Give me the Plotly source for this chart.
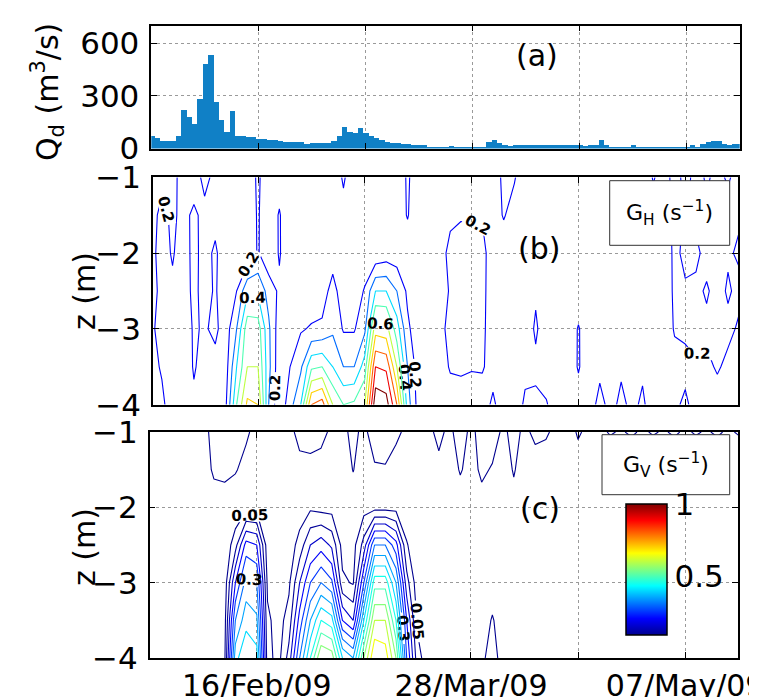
import plotly.graph_objects as go
import pandas as pd

W, H = 757, 697

# ---------------- data ----------------
# (a) daily discharge Q_d (m^3/s), starting 27 Jan 2009
Q_START = "2009-01-27"
Q_D = [72, 61, 44, 44, 44, 72, 220, 180, 140, 282,
       481, 532, 265, 163, 97, 214, 72, 72, 66, 66,
       55, 55, 49, 49, 44, 38, 38, 38, 38, 27,
       32, 32, 32, 32, 44, 72, 123, 95, 89, 117,
       89, 72, 61, 49, 38, 32, 32, 27, 27, 21,
       21, 21, 10, 10, 10, 10, 15, 12, 13, 13,
       12, 8, 13, 38, 51, 32, 19, 15, 19, 19,
       19, 19, 19, 19, 19, 19, 19, 19, 19, 19,
       19, 15, 19, 19, 51, 19, 10, 13, 13, 13,
       19, 13, 13, 13, 13, 13, 13, 13, 13, 13,
       13, 19, 8, 29, 38, 42, 42, 29, 23, 29, 29]

# grid for the contour panels: days since 27 Jan 2009, depth z (m)
DAYS = [0, 2, 4, 6, 8, 10, 12, 14, 16, 18, 20, 22, 24, 26, 28, 30, 32, 34, 36, 38,
        40, 42, 44, 46, 48, 50, 52, 54, 56, 58, 60, 62, 64, 66, 68, 70, 72, 74, 76, 78,
        80, 82, 84, 86, 88, 90, 92, 94, 96, 98, 100, 102, 104, 106, 108, 110]
DEPTHS = [-1.0, -1.5, -2.0, -2.5, -3.0, -3.5, -4.0]

# (b) G_H (s^-1): one profile per day column, values at DEPTHS
GH_PROFILES = [
    [0.22, 0.24, 0.23, 0.24, 0.22, 0.23, 0.21],
    [0.23, 0.17, 0.16, 0.17, 0.16, 0.19, 0.22],
    [0.23, 0.22, 0.21, 0.18, 0.15, 0.14, 0.15],
    [0.16, 0.17, 0.15, 0.16, 0.15, 0.13, 0.12],
    [0.15, 0.22, 0.23, 0.22, 0.21, 0.21, 0.18],
    [0.23, 0.17, 0.16, 0.17, 0.19, 0.16, 0.14],
    [0.17, 0.16, 0.22, 0.21, 0.22, 0.17, 0.15],
    [0.12, 0.12, 0.12, 0.14, 0.15, 0.16, 0.19],
    [0.12, 0.12, 0.12, 0.20, 0.30, 0.40, 0.50],
    [0.13, 0.14, 0.12, 0.38, 0.56, 0.60, 0.72],
    [0.22, 0.21, 0.21, 0.38, 0.55, 0.60, 0.70],
    [0.12, 0.13, 0.12, 0.26, 0.32, 0.33, 0.30],
    [0.15, 0.21, 0.21, 0.18, 0.14, 0.13, 0.12],
    [0.10, 0.11, 0.12, 0.13, 0.15, 0.20, 0.26],
    [0.10, 0.11, 0.12, 0.15, 0.19, 0.28, 0.40],
    [0.10, 0.11, 0.12, 0.14, 0.21, 0.48, 0.80],
    [0.10, 0.11, 0.12, 0.15, 0.22, 0.50, 0.85],
    [0.10, 0.14, 0.15, 0.24, 0.28, 0.40, 0.60],
    [0.22, 0.15, 0.12, 0.14, 0.19, 0.30, 0.50],
    [0.10, 0.11, 0.12, 0.14, 0.19, 0.30, 0.52],
    [0.10, 0.11, 0.13, 0.21, 0.28, 0.45, 0.60],
    [0.10, 0.12, 0.12, 0.40, 0.66, 0.90, 1.08],
    [0.10, 0.12, 0.14, 0.40, 0.64, 0.88, 1.05],
    [0.10, 0.12, 0.14, 0.30, 0.45, 0.60, 0.80],
    [0.22, 0.21, 0.12, 0.18, 0.22, 0.30, 0.35],
    [0.12, 0.10, 0.10, 0.12, 0.14, 0.15, 0.16],
    [0.10, 0.10, 0.10, 0.11, 0.12, 0.13, 0.14],
    [0.10, 0.11, 0.14, 0.15, 0.16, 0.15, 0.13],
    [0.14, 0.17, 0.24, 0.21, 0.24, 0.21, 0.15],
    [0.13, 0.19, 0.25, 0.26, 0.25, 0.22, 0.14],
    [0.12, 0.18, 0.25, 0.26, 0.24, 0.21, 0.13],
    [0.13, 0.19, 0.24, 0.23, 0.22, 0.21, 0.15],
    [0.15, 0.14, 0.13, 0.14, 0.15, 0.16, 0.22],
    [0.22, 0.21, 0.13, 0.12, 0.12, 0.13, 0.14],
    [0.21, 0.15, 0.12, 0.11, 0.11, 0.12, 0.13],
    [0.12, 0.11, 0.10, 0.11, 0.12, 0.17, 0.22],
    [0.11, 0.10, 0.11, 0.18, 0.22, 0.17, 0.23],
    [0.10, 0.10, 0.10, 0.11, 0.12, 0.14, 0.21],
    [0.10, 0.10, 0.10, 0.10, 0.11, 0.12, 0.13],
    [0.10, 0.10, 0.10, 0.10, 0.12, 0.13, 0.14],
    [0.10, 0.10, 0.10, 0.12, 0.21, 0.21, 0.15],
    [0.10, 0.10, 0.10, 0.10, 0.12, 0.13, 0.14],
    [0.10, 0.10, 0.10, 0.11, 0.13, 0.17, 0.24],
    [0.10, 0.10, 0.10, 0.11, 0.12, 0.15, 0.16],
    [0.10, 0.10, 0.10, 0.11, 0.13, 0.18, 0.23],
    [0.10, 0.10, 0.10, 0.11, 0.12, 0.15, 0.17],
    [0.10, 0.10, 0.10, 0.11, 0.13, 0.18, 0.22],
    [0.21, 0.15, 0.11, 0.11, 0.12, 0.13, 0.14],
    [0.15, 0.14, 0.14, 0.13, 0.13, 0.13, 0.14],
    [0.24, 0.23, 0.22, 0.22, 0.21, 0.16, 0.18],
    [0.17, 0.19, 0.18, 0.21, 0.22, 0.17, 0.22],
    [0.23, 0.22, 0.18, 0.22, 0.23, 0.19, 0.16],
    [0.19, 0.21, 0.23, 0.19, 0.22, 0.18, 0.15],
    [0.22, 0.18, 0.22, 0.23, 0.21, 0.21, 0.16],
    [0.19, 0.23, 0.21, 0.19, 0.22, 0.18, 0.15],
    [0.23, 0.21, 0.19, 0.22, 0.19, 0.17, 0.15],
]

# (c) G_V (s^-1): one profile per day column, values at DEPTHS
GV_PROFILES = [
    [0.02, 0.01, 0.01, 0.01, 0.01, 0.02, 0.02],
    [0.02, 0.01, 0.01, 0.01, 0.01, 0.02, 0.02],
    [0.02, 0.01, 0.01, 0.01, 0.01, 0.02, 0.02],
    [0.02, 0.01, 0.01, 0.01, 0.01, 0.02, 0.02],
    [0.02, 0.01, 0.01, 0.01, 0.01, 0.02, 0.02],
    [0.03, 0.02, 0.01, 0.01, 0.01, 0.02, 0.02],
    [0.07, 0.06, 0.02, 0.01, 0.01, 0.02, 0.03],
    [0.08, 0.065, 0.02, 0.01, 0.02, 0.03, 0.04],
    [0.07, 0.055, 0.01, 0.08, 0.20, 0.30, 0.38],
    [0.06, 0.03, 0.03, 0.22, 0.32, 0.38, 0.45],
    [0.03, 0.02, 0.03, 0.20, 0.30, 0.36, 0.42],
    [0.02, 0.01, 0.01, 0.02, 0.04, 0.06, 0.07],
    [0.02, 0.01, 0.01, 0.01, 0.02, 0.03, 0.03],
    [0.03, 0.02, 0.01, 0.02, 0.04, 0.07, 0.12],
    [0.07, 0.03, 0.02, 0.07, 0.15, 0.22, 0.30],
    [0.07, 0.035, 0.04, 0.15, 0.25, 0.35, 0.45],
    [0.065, 0.03, 0.03, 0.18, 0.30, 0.45, 0.60],
    [0.04, 0.02, 0.03, 0.14, 0.26, 0.42, 0.58],
    [0.04, 0.02, 0.01, 0.03, 0.06, 0.20, 0.40],
    [0.06, 0.052, 0.02, 0.03, 0.045, 0.15, 0.35],
    [0.04, 0.02, 0.03, 0.12, 0.25, 0.40, 0.55],
    [0.07, 0.045, 0.03, 0.30, 0.48, 0.60, 0.70],
    [0.08, 0.045, 0.03, 0.30, 0.48, 0.60, 0.68],
    [0.06, 0.03, 0.03, 0.22, 0.35, 0.45, 0.55],
    [0.04, 0.02, 0.01, 0.055, 0.12, 0.20, 0.25],
    [0.03, 0.02, 0.01, 0.01, 0.02, 0.04, 0.07],
    [0.04, 0.02, 0.01, 0.01, 0.01, 0.01, 0.02],
    [0.06, 0.04, 0.01, 0.01, 0.01, 0.01, 0.02],
    [0.04, 0.02, 0.01, 0.01, 0.01, 0.01, 0.02],
    [0.07, 0.055, 0.02, 0.01, 0.01, 0.01, 0.02],
    [0.04, 0.03, 0.01, 0.01, 0.01, 0.01, 0.02],
    [0.065, 0.06, 0.03, 0.01, 0.01, 0.02, 0.04],
    [0.075, 0.045, 0.02, 0.01, 0.02, 0.055, 0.07],
    [0.04, 0.02, 0.01, 0.01, 0.01, 0.02, 0.03],
    [0.065, 0.055, 0.03, 0.01, 0.01, 0.01, 0.02],
    [0.04, 0.02, 0.01, 0.01, 0.01, 0.01, 0.02],
    [0.06, 0.03, 0.01, 0.01, 0.01, 0.01, 0.02],
    [0.055, 0.03, 0.01, 0.01, 0.01, 0.01, 0.02],
    [0.04, 0.02, 0.01, 0.01, 0.01, 0.01, 0.02],
    [0.03, 0.02, 0.01, 0.01, 0.01, 0.01, 0.02],
    [0.055, 0.03, 0.01, 0.01, 0.01, 0.01, 0.02],
    [0.04, 0.02, 0.01, 0.01, 0.01, 0.01, 0.02],
    [0.045, 0.02, 0.01, 0.01, 0.01, 0.01, 0.02],
    [0.052, 0.03, 0.01, 0.01, 0.01, 0.01, 0.02],
    [0.048, 0.03, 0.01, 0.01, 0.01, 0.01, 0.02],
    [0.053, 0.03, 0.01, 0.01, 0.01, 0.01, 0.02],
    [0.047, 0.03, 0.01, 0.01, 0.01, 0.01, 0.02],
    [0.052, 0.03, 0.01, 0.01, 0.01, 0.01, 0.02],
    [0.048, 0.03, 0.01, 0.01, 0.01, 0.01, 0.02],
    [0.053, 0.03, 0.01, 0.01, 0.01, 0.01, 0.02],
    [0.047, 0.03, 0.01, 0.01, 0.01, 0.01, 0.02],
    [0.052, 0.03, 0.01, 0.01, 0.01, 0.01, 0.02],
    [0.048, 0.03, 0.01, 0.01, 0.01, 0.01, 0.02],
    [0.053, 0.03, 0.01, 0.01, 0.01, 0.01, 0.02],
    [0.047, 0.03, 0.01, 0.01, 0.01, 0.01, 0.02],
    [0.052, 0.03, 0.01, 0.01, 0.01, 0.01, 0.02],
]

# contour levels (labelled ones are shown with a value on the line)
GH_LEVELS = [0.2, 0.3, 0.4, 0.5, 0.6, 0.7, 0.8, 0.9, 1.0]
GH_LABELLED = [0.2, 0.4, 0.6, 0.8, 1.0]
GV_LEVELS = [0.05, 0.1, 0.15, 0.2, 0.25, 0.3, 0.35, 0.4, 0.45, 0.5, 0.55, 0.6, 0.65, 0.7, 0.75, 0.8]
GV_LABELLED = [0.05, 0.3, 0.55, 0.8]

TICK_DATES = ["2009-02-16", "2009-03-08", "2009-03-28", "2009-04-17", "2009-05-07"]
TICK_TEXT = ["16/Feb/09", "", "28/Mar/09", "", "07/May/09"]
CBAR_TICKS = [0.5, 1]

# ---------------- build ----------------
FONT = "DejaVu Sans"
JET = [[0.0, (0, 0, 143)], [0.125, (0, 0, 255)], [0.375, (0, 255, 255)],
       [0.625, (255, 255, 0)], [0.875, (255, 0, 0)], [1.0, (128, 0, 0)]]
JET_SCALE = [[p, "rgb(%d,%d,%d)" % c] for p, c in JET]
CMIN, CMAX = 0.09, 1.0


def jet_color(v):
    t = min(max((v - CMIN) / (CMAX - CMIN), 0.0), 1.0)
    for (p0, c0), (p1, c1) in zip(JET[:-1], JET[1:]):
        if t <= p1:
            f = (t - p0) / (p1 - p0)
            c = [round(a + (b - a) * f) for a, b in zip(c0, c1)]
            return "rgb(%d,%d,%d)" % tuple(c)
    return "rgb(128,0,0)"


base = pd.Timestamp("2009-01-27")
grid_x = [base + pd.Timedelta(days=d) for d in DAYS]
gh = [[GH_PROFILES[j][i] for j in range(len(DAYS))] for i in range(len(DEPTHS))]
gv = [[GV_PROFILES[j][i] for j in range(len(DAYS))] for i in range(len(DEPTHS))]
q_dates = pd.date_range(Q_START, periods=len(Q_D), freq="D")

DAY_MS = 86400000

fig = go.Figure()
fig.add_trace(go.Bar(x=q_dates, y=Q_D, width=DAY_MS, offset=-0.31 * DAY_MS,
                     marker=dict(color="rgb(16,128,198)", line=dict(width=0)),
                     xaxis="x", yaxis="y", hoverinfo="skip"))

labfont = dict(family=FONT, size=15, color="black", weight="bold")


def contour_level(z, level, labelled, xa, ya):
    col = jet_color(level)
    return go.Contour(x=grid_x, y=DEPTHS, z=z, xaxis=xa, yaxis=ya,
                      colorscale=[[0, col], [1, col]], showscale=False,
                      autocontour=False,
                      contours=dict(start=level, end=level, size=1, coloring="lines",
                                    showlabels=labelled, labelfont=labfont,
                                    labelformat=".2~g"),
                      line=dict(width=1.1, smoothing=0, color=col), hoverinfo="skip")


for lv in GH_LEVELS:
    fig.add_trace(contour_level(gh, lv, lv in GH_LABELLED, "x2", "y2"))
for lv in GV_LEVELS:
    fig.add_trace(contour_level(gv, lv, lv in GV_LABELLED, "x3", "y3"))


def px(v):
    return v / W


def py(v):
    return 1 - v / H


# invisible marker carrying the continuous colour bar of panel (c)
fig.add_trace(go.Scatter(x=grid_x[:1], y=DEPTHS[:1], xaxis="x3", yaxis="y3",
                         mode="markers", hoverinfo="skip",
                         marker=dict(size=1, opacity=0, color=[CMIN], coloraxis="coloraxis")))

axis_common = dict(showline=True, linecolor="black", linewidth=1.5, mirror="ticks",
                   ticks="inside", ticklen=6, tickcolor="black", tickwidth=1,
                   showgrid=True, gridcolor="#9a9a9a", griddash="dot", gridwidth=1,
                   zeroline=False, automargin=False,
                   tickfont=dict(family=FONT, size=31, color="black"))

xcommon = dict(axis_common, type="date", tickvals=TICK_DATES)

fig.update_layout(
    width=W, height=H, margin=dict(l=0, r=0, t=0, b=0),
    paper_bgcolor="white", plot_bgcolor="white", showlegend=False,
    bargap=0,
    xaxis=dict(xcommon, domain=[px(143.3), px(731.7)], anchor="y",
               range=["2009-01-27", "2009-05-17"], showticklabels=False),
    yaxis=dict(axis_common, domain=[py(140.5), py(17.7)], anchor="x",
               range=[0, 700], tickvals=[0, 300, 600], ticklabelstandoff=4),
    xaxis2=dict(xcommon, domain=[px(145), px(730)], anchor="y2",
                range=["2009-01-27 08:10", "2009-05-16 21:00"], showticklabels=False),
    yaxis2=dict(axis_common, domain=[py(396.7), py(169.3)], anchor="x2",
                range=[-4, -1], tickvals=[-4, -3, -2, -1], ticklabelstandoff=4),
    xaxis3=dict(xcommon, domain=[px(141.7), px(730)], anchor="y3",
                range=["2009-01-27", "2009-05-16 21:00"], ticktext=TICK_TEXT,
                ticklabelstandoff=0, ticklabeloverflow="allow",
                tickfont=dict(family=FONT, size=30, color="black")),
    yaxis3=dict(axis_common, domain=[py(650), py(424)], anchor="x3",
                range=[-4, -1], tickvals=[-4, -3, -2, -1], ticklabelstandoff=4),
    coloraxis=dict(colorscale=JET_SCALE, cmin=CMIN, cmax=CMAX, showscale=True,
                   colorbar=dict(x=px(618), xanchor="left", xpad=0,
                                 y=py(561.5), yanchor="middle", ypad=0,
                                 len=131, lenmode="pixels", thickness=41,
                                 thicknessmode="pixels",
                                 outlinewidth=1.5, outlinecolor="black",
                                 tickvals=CBAR_TICKS, ticks="", ticklabelposition="outside",
                                 tickfont=dict(family=FONT, size=31, color="black"))),
)

shapes = [
    dict(type="rect", xref="paper", yref="paper", x0=px(601.7), x1=px(721.7),
         y0=py(237.3), y1=py(172.7), line=dict(color="#333333", width=1),
         fillcolor="white", layer="above"),
    dict(type="rect", xref="paper", yref="paper", x0=px(594), x1=px(721.7),
         y0=py(486.7), y1=py(426.7), line=dict(color="#333333", width=1),
         fillcolor="white", layer="above"),
]
fig.update_layout(shapes=shapes)

big = dict(family=FONT, size=30, color="black")
mid = dict(family=FONT, size=22, color="black")
ann = [
    dict(text="(a)", x=px(529), y=py(48), font=big),
    dict(text="(b)", x=px(531), y=py(240), font=big),
    dict(text="(c)", x=px(532), y=py(500), font=big),
    dict(text="Q<sub>d</sub> (m<sup>3</sup>/s)", x=px(40), y=py(84), font=big, textangle=-90),
    dict(text="z (m)", x=px(76), y=py(283), font=big, textangle=-90),
    dict(text="z (m)", x=px(76), y=py(539), font=big, textangle=-90),
    dict(text="G<sub>H</sub> (s<sup>−1</sup>)", x=px(661.7), y=py(205), font=mid),
    dict(text="G<sub>V</sub> (s<sup>−1</sup>)", x=px(657.9), y=py(456.7), font=mid),
]
for a in ann:
    a.update(xref="paper", yref="paper", showarrow=False, xanchor="center", yanchor="middle")
fig.update_layout(annotations=ann)

fig.write_html("out.html")
